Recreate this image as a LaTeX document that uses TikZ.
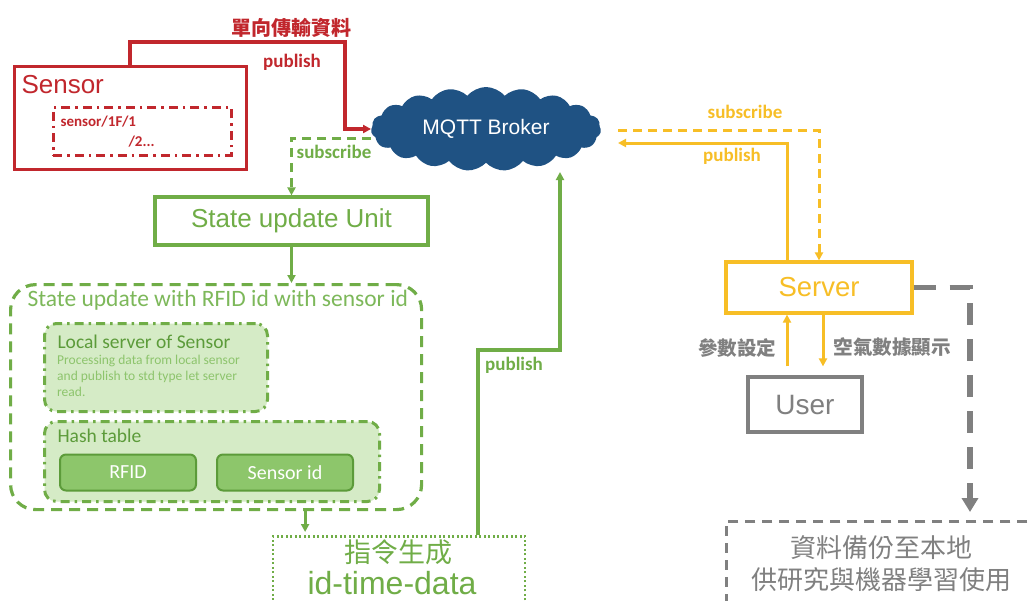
\documentclass[tikz,border=0pt]{standalone}
\usepackage{fontspec}
\setmainfont{Liberation Sans}
\newfontfamily\calfont{Carlito}
\newfontfamily\cjk{Noto Sans CJK TC}
\usetikzlibrary{arrows.meta,shapes.symbols}
\newcommand\fsz[2]{\fontsize{#1}{#2}\selectfont}
\definecolor{rd}{HTML}{C1272D}
\definecolor{gr}{HTML}{70AD47}
\definecolor{grt}{HTML}{7DB85A}
\definecolor{grl}{HTML}{D5EBC6}
\definecolor{grm}{HTML}{8DC66B}
\definecolor{grd}{HTML}{5C9B3A}
\definecolor{grs}{HTML}{8DC46C}
\definecolor{yl}{HTML}{F7BE26}
\definecolor{bl}{HTML}{1F5283}
\definecolor{gy}{HTML}{808080}
\begin{document}
\begin{tikzpicture}[x=1pt,y=-1pt,
  tip/.style={-{Triangle[length=8pt,width=8pt]}},
  lbl/.style={font=\calfont\bfseries\fsz{19}{21}},
  dashdot/.style={dash pattern=on 9pt off 5pt on 2.5pt off 5pt},
  innerbox/.style={fill=grl, draw=gr, line width=3pt, dashdot, rounded corners=12, anchor=north west, inner sep=0},
  keybox/.style={fill=grm, draw=grd, line width=2pt, rounded corners=6, minimum width=136, minimum height=36, text=white, font=\calfont\fsz{20}{22}}]
\clip (0,0) rectangle (1033,600);
\fill[white] (0,0) rectangle (1033,600);

% --- sensor side (red) ---
\node (sensor) [draw=rd, line width=3.2pt, minimum width=232, minimum height=103, inner sep=0, anchor=north west] at (13,65) {};
\node (sensortxt) [text=rd, anchor=west, font=\fsz{26}{30}] at (18,85) {Sensor};
\node (topic) [draw=rd, line width=2.8pt, dashdot, minimum width=178, minimum height=48, inner sep=0, anchor=north west] at (52,106) {};
\node (t1) [text=rd, font=\calfont\bfseries\fsz{15}{17}, anchor=west] at (57,122) {sensor/1F/1};
\node (t2) [text=rd, font=\calfont\bfseries\fsz{15}{17}, anchor=west] at (125,142) {/2...};

% --- broker ---
\node (broker) [cloud, cloud puffs=19, cloud puff arc=100, cloud ignores aspect, fill=bl, minimum width=230, minimum height=84, text=white, font=\fsz{21}{24}] at (486,129) {MQTT Broker};

\draw[rd, line width=3.2pt, tip] ([xshift=117]sensor.north west) |- (345,42) |- (broker.west);
\node (lbl1) [text=rd, font=\cjk\bfseries\fsz{20}{22}] at (291,28) {單向傳輸資料};
\node (pub1) [text=rd, lbl] at (292,62) {publish};

% --- state update chain (green) ---
\node (unit) [draw=gr, line width=3.2pt, minimum width=273, minimum height=48, text=gr, font=\fsz{26}{30}] at (291.5,221) {State update Unit};
\draw[gr, line width=3pt, dash pattern=on 9pt off 6pt, tip] ([yshift=-9]broker.west) -| (unit.north);
\node (sub1) [text=gr, lbl] at (334,152) {subscribe};

\node (outer) [draw=gr, line width=3.2pt, dash pattern=on 11pt off 7pt, rounded corners=25, minimum width=411, minimum height=225, inner sep=0, anchor=north west] at (9,283) {};
\draw[gr, line width=3pt, tip] (unit.south) -- (unit.south |- outer.north);
\node (outtitle) [text=grt, font=\calfont\fsz{23.5}{26}, anchor=west] at (24,300) {State update with RFID id with sensor id};

\node (local) [innerbox, minimum width=223, minimum height=88] at (43,322) {};
\node (localtitle) [text=grd, font=\calfont\fsz{19.5}{22}, anchor=west] at (54,342) {Local server of Sensor};
\node (localdesc) [text=grs, font=\calfont\fsz{13.5}{16}, anchor=north west, align=left, inner sep=0] at (57,355) {Processing data from local sensor\\and publish to std type let server\\read.};

\node (hash) [innerbox, minimum width=335, minimum height=80] at (43,420) {};
\node (hashtitle) [text=grd, font=\calfont\fsz{19.5}{22}, anchor=west] at (54,436) {Hash table};
\node (rfid) [keybox] at (128,472.5) {RFID};
\node (sid) [keybox] at (285,472.5) {Sensor id};

\node (idbox) [draw=gr, line width=2.8pt, dash pattern=on 2pt off 2.5pt, minimum width=252, minimum height=100, inner sep=0, anchor=north] at (399,535) {};
\node (idtxt1) [text=gr, font=\cjk\fsz{27}{30}] at (398,552) {指令生成};
\node (idtxt2) [text=gr, font=\fsz{32}{36}] at (392,583) {id-time-data};
\coordinate (oa) at ([xshift=89]outer.south);
\draw[gr, line width=3pt, tip, shorten >=3pt] (oa) -- (oa |- idbox.north);

\coordinate (gp) at (560,172);
\draw[gr, line width=3.2pt, tip] ([xshift=79]idbox.north) |- (560,350) -- (gp);
\node (pub2) [text=gr, lbl] at (514,365) {publish};

% --- server side (yellow) ---
\node (server) [draw=yl, line width=3.2pt, minimum width=186, minimum height=51, text=yl, font=\fsz{27.5}{30}] at (819,287.5) {Server};
\coordinate (ysub) at (618,130);
\coordinate (ypub) at (618,143);
\draw[yl, line width=3pt, dash pattern=on 9pt off 6pt, tip] (ysub) -| (server.north);
\draw[yl, line width=3pt, tip] ([xshift=-32]server.north) |- (ypub);
\node (sub2) [text=yl, lbl] at (745,112) {subscribe};
\node (pub3) [text=yl, lbl] at (732,156) {publish};

\node (user) [draw=gy, line width=3.2pt, minimum width=114, minimum height=55, text=gy, font=\fsz{28}{32}] at (805,404.5) {User};
\draw[yl, line width=3pt, tip] ([xshift=-18,yshift=9]user.north) -- ([xshift=-32]server.south);
\draw[yl, line width=3pt, tip] ([xshift=4]server.south) -- ([xshift=18,yshift=9]user.north);
\node (cfg) [text=gy, font=\cjk\bfseries\fsz{19.5}{22}] at (737,348) {參數設定};
\node (disp) [text=gy, font=\cjk\bfseries\fsz{19.5}{22}] at (892,347) {空氣數據顯示};

% --- local backup (grey) ---
\node (backup) [draw=gy, line width=2.8pt, dash pattern=on 10pt off 7pt, minimum width=320, minimum height=120, inner sep=0, anchor=north west] at (725,520) {};
\node (bktxt) [text=gy, font=\cjk\fsz{26}{32}, align=center] at (881,564) {資料備份至本地\\供研究與機器學習使用};
\coordinate (bk) at (970,512);
\draw[gy, line width=5.2pt, dash pattern=on 22pt off 14pt, -{Triangle[length=14pt,width=16pt]}] (server.east) -| (bk);
\end{tikzpicture}
\end{document}
